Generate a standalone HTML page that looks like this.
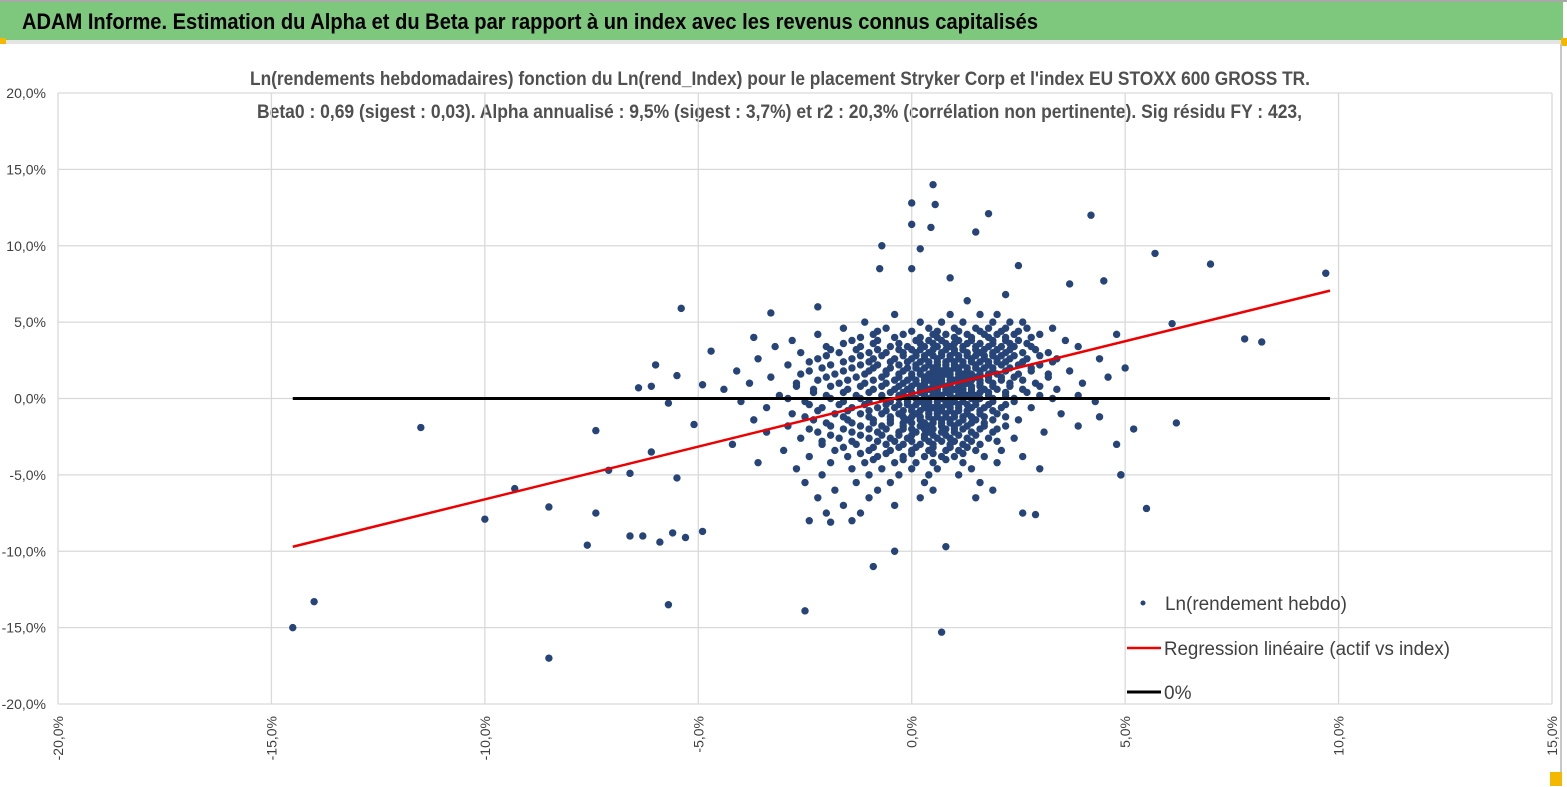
<!DOCTYPE html>
<html><head><meta charset="utf-8"><style>
html,body{margin:0;padding:0;background:#fff;}
svg{display:block;font-family:"Liberation Sans",sans-serif;}
</style></head><body>
<svg id="chart" width="1567" height="787" viewBox="0 0 1567 787" xmlns="http://www.w3.org/2000/svg">
<rect x="0" y="0" width="1567" height="787" fill="#fff"/>
<rect x="0" y="2" width="1563" height="38" fill="#7ec87e"/>
<rect x="0" y="0" width="1567" height="2" fill="#a8a8a8"/>
<rect x="0" y="40" width="1567" height="4" fill="#e4e4e4"/>
<rect x="0" y="38" width="6" height="6" fill="#f5b800"/>
<rect x="1561" y="38" width="6" height="8" fill="#f5b800"/>
<rect x="1560" y="44" width="2" height="740" fill="#c8c8c8"/>
<rect x="1550" y="772" width="12" height="14" fill="#f5b800"/>
<text x="22" y="29" font-size="22" font-weight="bold" fill="#000" textLength="1016" lengthAdjust="spacingAndGlyphs">ADAM Informe. Estimation du Alpha et du Beta par rapport à un index avec les revenus connus capitalisés</text>
<text x="250" y="85" font-size="19" font-weight="bold" fill="#505050" textLength="1060" lengthAdjust="spacingAndGlyphs">Ln(rendements hebdomadaires) fonction du Ln(rend_Index) pour le placement Stryker Corp et l'index EU STOXX 600 GROSS TR.</text>
<text x="257" y="118" font-size="19" font-weight="bold" fill="#505050" textLength="1045" lengthAdjust="spacingAndGlyphs">Beta0 : 0,69 (sigest : 0,03).  Alpha annualisé : 9,5% (sigest : 3,7%) et r2 : 20,3% (corrélation non pertinente). Sig résidu FY : 423,</text>
<g id="grid"></g>
<g id="axes"></g>
<g id="marks"></g>
<g id="legend">
  <circle cx="1143" cy="603" r="2.5" fill="#264478"/>
  <text x="1165" y="610" font-size="19" fill="#404040" textLength="182" lengthAdjust="spacingAndGlyphs">Ln(rendement hebdo)</text>
  <line x1="1127" y1="648" x2="1161" y2="648" stroke="#e00" stroke-width="2.5"/>
  <text x="1164" y="655" font-size="19" fill="#404040" textLength="286" lengthAdjust="spacingAndGlyphs">Regression linéaire (actif vs index)</text>
  <line x1="1127" y1="692" x2="1161" y2="692" stroke="#000" stroke-width="3"/>
  <text x="1164" y="699" font-size="19" fill="#404040">0%</text>
</g>
</svg>
<script>
const xTicks=[-20,-15,-10,-5,0,5,10,15];
const yTicks=[20,15,10,5,0,-5,-10,-15,-20];
// dense cluster rows: asset return (y, %) and the index returns (x, %) at that level
const assetRows=[5.5,5.0,4.6,4.2,3.8,3.4,3.0,2.6,2.2,1.8,1.4,1.0,0.6,0.2,-0.2,-0.6,-1.0,-1.4,-1.8,-2.2,-2.6,-3.0,-3.4,-3.8,-4.2,-4.6,-5.0,-5.5,-6.0,-6.5,-7.0,-7.5,-8.0];
const indexRows=[
[-0.4,0.9,1.6,2.0],
[-1.1,0.2,0.7,1.2,1.9,2.3,2.6],
[-1.6,-0.6,0.4,1.0,1.5,1.8,2.2,2.7,3.3],
[-2.2,-0.9,-0.2,0.5,0.8,1.3,1.7,2.0,2.4,3.0],
[-2.8,-1.4,-0.8,0.1,0.4,0.7,1.1,1.4,1.9,2.2,2.5,3.6],
[-3.2,-2.0,-1.2,-0.5,-0.1,0.3,0.6,0.9,1.2,1.5,1.8,2.1,2.4,2.8,3.9],
[-2.6,-1.7,-1.0,-0.6,-0.2,0.1,0.4,0.7,1.0,1.3,1.6,1.9,2.2,2.6,3.2],
[-3.6,-2.2,-1.4,-0.9,-0.4,0.0,0.3,0.6,0.9,1.1,1.4,1.7,2.0,2.3,2.7,3.4,4.4],
[-2.9,-1.9,-1.2,-0.8,-0.3,0.1,0.4,0.6,0.8,1.0,1.2,1.5,1.8,2.1,2.5,3.0],
[-4.1,-2.4,-1.6,-1.0,-0.6,-0.2,0.2,0.5,0.7,0.9,1.1,1.3,1.6,1.9,2.2,2.8,3.7],
[-3.3,-2.0,-1.3,-0.7,-0.3,0.0,0.3,0.5,0.7,0.9,1.1,1.3,1.5,1.8,2.1,2.4,3.2,4.6],
[-3.8,-2.7,-1.7,-1.1,-0.6,-0.2,0.1,0.3,0.5,0.7,0.9,1.1,1.3,1.6,1.9,2.3,2.9,4.0],
[-4.4,-2.3,-1.5,-0.9,-0.4,-0.1,0.2,0.4,0.6,0.8,1.0,1.2,1.4,1.7,2.0,2.6,3.4],
[-3.1,-2.0,-1.3,-0.7,-0.3,0.0,0.3,0.5,0.7,0.9,1.1,1.3,1.5,1.8,2.2,3.0,3.9],
[-4.0,-2.5,-1.6,-1.0,-0.5,-0.1,0.2,0.4,0.6,0.8,1.0,1.2,1.5,1.9,2.4,4.3],
[-3.4,-2.1,-1.4,-0.8,-0.4,0.0,0.3,0.5,0.7,0.9,1.1,1.4,1.7,2.1,2.8],
[-2.8,-1.8,-1.2,-0.7,-0.3,0.1,0.4,0.6,0.8,1.0,1.3,1.6,2.0,3.5],
[-3.7,-2.3,-1.5,-0.9,-0.5,-0.1,0.2,0.5,0.7,0.9,1.2,1.5,1.9,2.5],
[-2.9,-1.9,-1.2,-0.7,-0.2,0.2,0.4,0.7,1.0,1.3,1.7,2.2,3.9],
[-3.4,-2.2,-1.4,-0.8,-0.3,0.1,0.4,0.7,1.0,1.4,1.9,3.1],
[-2.6,-1.7,-1.0,-0.5,-0.1,0.3,0.6,0.9,1.3,1.8,2.4],
[-4.2,-2.1,-1.3,-0.6,-0.2,0.2,0.5,0.9,1.2,1.6,4.8],
[-3.0,-1.8,-1.0,-0.5,0.0,0.4,0.8,1.1,1.5,2.1],
[-2.4,-1.5,-0.8,-0.2,0.3,0.7,1.0,1.7,2.6],
[-3.6,-1.9,-1.1,-0.4,0.1,0.5,1.2,2.0],
[-2.7,-1.4,-0.7,0.0,0.6,1.4,3.0],
[-2.1,-1.0,-0.3,0.4,1.1,4.9],
[-2.5,-1.3,-0.5,0.3,1.6],
[-1.8,-0.8,0.5,1.9],
[-2.2,-1.0,0.2,1.5],
[-1.6,-0.4],
[-2.0,-1.2,2.6],
[-1.4,-2.4]
];
// interleaved core rows (densest part of the cloud)
const coreAssetRows=[4.4,4.0,3.6,3.2,2.8,2.4,2.0,1.6,1.2,0.8,0.4,0.0,-0.4,-0.8,-1.2,-1.6,-2.0,-2.4,-2.8,-3.2,-3.6,-4.0];
const coreIndexRows=[
[-0.8,0.0,0.6,1.1,1.6,2.1,2.5],
[-1.2,-0.4,0.2,0.6,1.0,1.4,1.8,2.2,2.8],
[-1.6,-0.9,-0.3,0.2,0.5,0.8,1.0,1.3,1.6,1.9,2.3,2.7],
[-1.9,-1.3,-0.8,-0.3,0.0,0.2,0.5,0.8,1.0,1.2,1.5,1.7,2.0,2.3,2.9],
[-2.0,-1.2,-0.7,-0.2,0.1,0.3,0.5,0.7,0.9,1.1,1.3,1.5,1.7,1.9,2.1,2.4,3.0],
[-2.4,-1.6,-1.0,-0.5,-0.1,0.2,0.4,0.6,0.8,1.0,1.2,1.4,1.6,1.8,2.0,2.2,2.6,3.3],
[-2.1,-1.4,-0.9,-0.5,-0.1,0.1,0.3,0.5,0.6,0.8,1.0,1.1,1.3,1.5,1.7,1.9,2.3,2.8],
[-2.6,-1.8,-1.1,-0.6,-0.3,0.0,0.2,0.4,0.6,0.8,0.9,1.1,1.2,1.4,1.6,1.8,2.0,2.5,3.2],
[-2.2,-1.5,-0.9,-0.4,-0.1,0.1,0.3,0.4,0.6,0.7,0.9,1.0,1.2,1.4,1.6,1.8,2.1,2.6],
[-2.7,-1.9,-1.2,-0.7,-0.3,0.0,0.2,0.3,0.5,0.6,0.8,0.9,1.1,1.2,1.4,1.6,1.9,2.3,3.0],
[-2.3,-1.6,-1.0,-0.5,-0.2,0.0,0.2,0.3,0.5,0.6,0.8,0.9,1.1,1.2,1.4,1.6,1.8,2.2,2.7],
[-2.9,-1.9,-1.2,-0.7,-0.3,-0.1,0.1,0.3,0.4,0.6,0.7,0.9,1.0,1.2,1.4,1.6,1.9,2.4,3.3],
[-2.4,-1.7,-1.1,-0.6,-0.3,-0.1,0.1,0.3,0.4,0.6,0.8,0.9,1.1,1.3,1.5,1.8,2.2],
[-2.2,-1.5,-1.0,-0.6,-0.2,0.0,0.2,0.4,0.6,0.7,0.9,1.1,1.3,1.6,1.9],
[-2.5,-1.6,-1.0,-0.5,-0.2,0.0,0.2,0.4,0.6,0.8,1.0,1.2,1.4,1.7,2.2],
[-2.0,-1.4,-0.9,-0.5,-0.2,0.0,0.3,0.5,0.7,0.9,1.1,1.4,1.7],
[-2.4,-1.6,-1.0,-0.6,-0.2,0.0,0.3,0.5,0.8,1.0,1.2,1.6,2.0],
[-1.9,-1.2,-0.7,-0.3,0.0,0.3,0.5,0.8,1.1,1.5],
[-2.1,-1.4,-0.8,-0.4,0.0,0.4,0.7,1.0,1.4,2.0],
[-1.6,-0.9,-0.3,0.1,0.5,0.9,1.3],
[-1.2,-0.6,0.0,0.5,1.2],
[-0.9,-0.2,0.8]
];
// isolated points
const outlierX=[-14.5,-14.0,-11.5,-10.0,-9.3,-8.5,-8.5,-7.6,-7.4,-7.4,-7.1,-6.4,-6.1,-6.0,-6.6,-6.3,-5.9,-5.6,-5.3,-5.7,-5.4,-6.6,-6.1,-5.5,-5.5,-5.7,-4.7,-4.9,-5.1,-4.9,-2.5,-3.3,-0.9,-0.4,0.7,0.8,5.2,5.5,6.2,5.7,7.0,6.1,7.8,8.2,9.7,4.2,0.5,0.0,0.55,0.0,0.45,1.8,1.5,-0.7,0.2,-0.75,0.0,2.5,3.7,4.5,4.9,2.9,-2.2,-1.9,-3.7,1.3,2.2,0.9,4.8,5.0,4.4];
const outlierY=[-15.0,-13.3,-1.9,-7.9,-5.9,-7.1,-17.0,-9.6,-2.1,-7.5,-4.7,0.7,0.8,2.2,-9.0,-9.0,-9.4,-8.8,-9.1,-13.5,5.9,-4.9,-3.5,-5.2,1.5,-0.3,3.1,0.9,-1.7,-8.7,-13.9,5.6,-11.0,-10.0,-15.3,-9.7,-2.0,-7.2,-1.6,9.5,8.8,4.9,3.9,3.7,8.2,12.0,14.0,12.8,12.7,11.4,11.2,12.1,10.9,10.0,9.8,8.5,8.5,8.7,7.5,7.7,-5.0,-7.6,6.0,-8.1,4.0,6.4,6.8,7.9,4.2,2.0,-1.2];
const regBeta=0.69, regAlpha=0.3;
const regX=[-14.5,9.8];
const zeroX=[-14.5,9.8];

const L=58,R=1552,T=93,B=704;
const xScale=v=>L+(v+20)/35*(R-L);
const yScale=v=>B-(v+20)/40*(B-T);
const NS='http://www.w3.org/2000/svg';
function mk(tag,attrs,parent){const e=document.createElementNS(NS,tag);for(const k in attrs)e.setAttribute(k,attrs[k]);parent.appendChild(e);return e;}
const grid=document.getElementById('grid'),axes=document.getElementById('axes'),marks=document.getElementById('marks');
const fmt=v=>v.toFixed(1).replace('.',',')+'%';
xTicks.forEach(v=>{
  const gl=mk('line',{x1:xScale(v),x2:xScale(v),y1:T,y2:B,stroke:'#d9d9d9','stroke-width':1.3},grid);
  
  
  const x=xScale(v);
  const t=mk('text',{x:0,y:0,'font-size':14,fill:'#404040','text-anchor':'end',transform:`translate(${x+5},${B+12}) rotate(-90)`},axes);
  t.textContent=fmt(v);
  
  
});
yTicks.forEach(v=>{
  const gl=mk('line',{x1:L,x2:R,y1:yScale(v),y2:yScale(v),stroke:'#d9d9d9','stroke-width':1.3},grid);
  
  
  const t=mk('text',{x:46,y:yScale(v)+5,'font-size':14,fill:'#404040','text-anchor':'end'},axes);
  t.textContent=fmt(v);
  
  
});
const pts=[];
assetRows.forEach((y,i)=>{(indexRows[i]||[]).forEach(x=>pts.push([x,y]));});
coreAssetRows.forEach((y,i)=>{(coreIndexRows[i]||[]).forEach(x=>pts.push([x,y]));});
outlierX.forEach((x,i)=>{if(i<outlierY.length)pts.push([x,outlierY[i]]);});
pts.forEach(p=>{
  const c=mk('circle',{cx:xScale(p[0]),cy:yScale(p[1]),r:3.7,fill:'#264478'},marks);
  
  
});
const z=mk('line',{x1:xScale(zeroX[0]),x2:xScale(zeroX[1]),y1:yScale(0),y2:yScale(0),stroke:'#000','stroke-width':3},marks);


const rl=mk('line',{x1:xScale(regX[0]),y1:yScale(regBeta*regX[0]+regAlpha),x2:xScale(regX[1]),y2:yScale(regBeta*regX[1]+regAlpha),stroke:'#e00','stroke-width':2.5},marks);


</script>
</body></html>
